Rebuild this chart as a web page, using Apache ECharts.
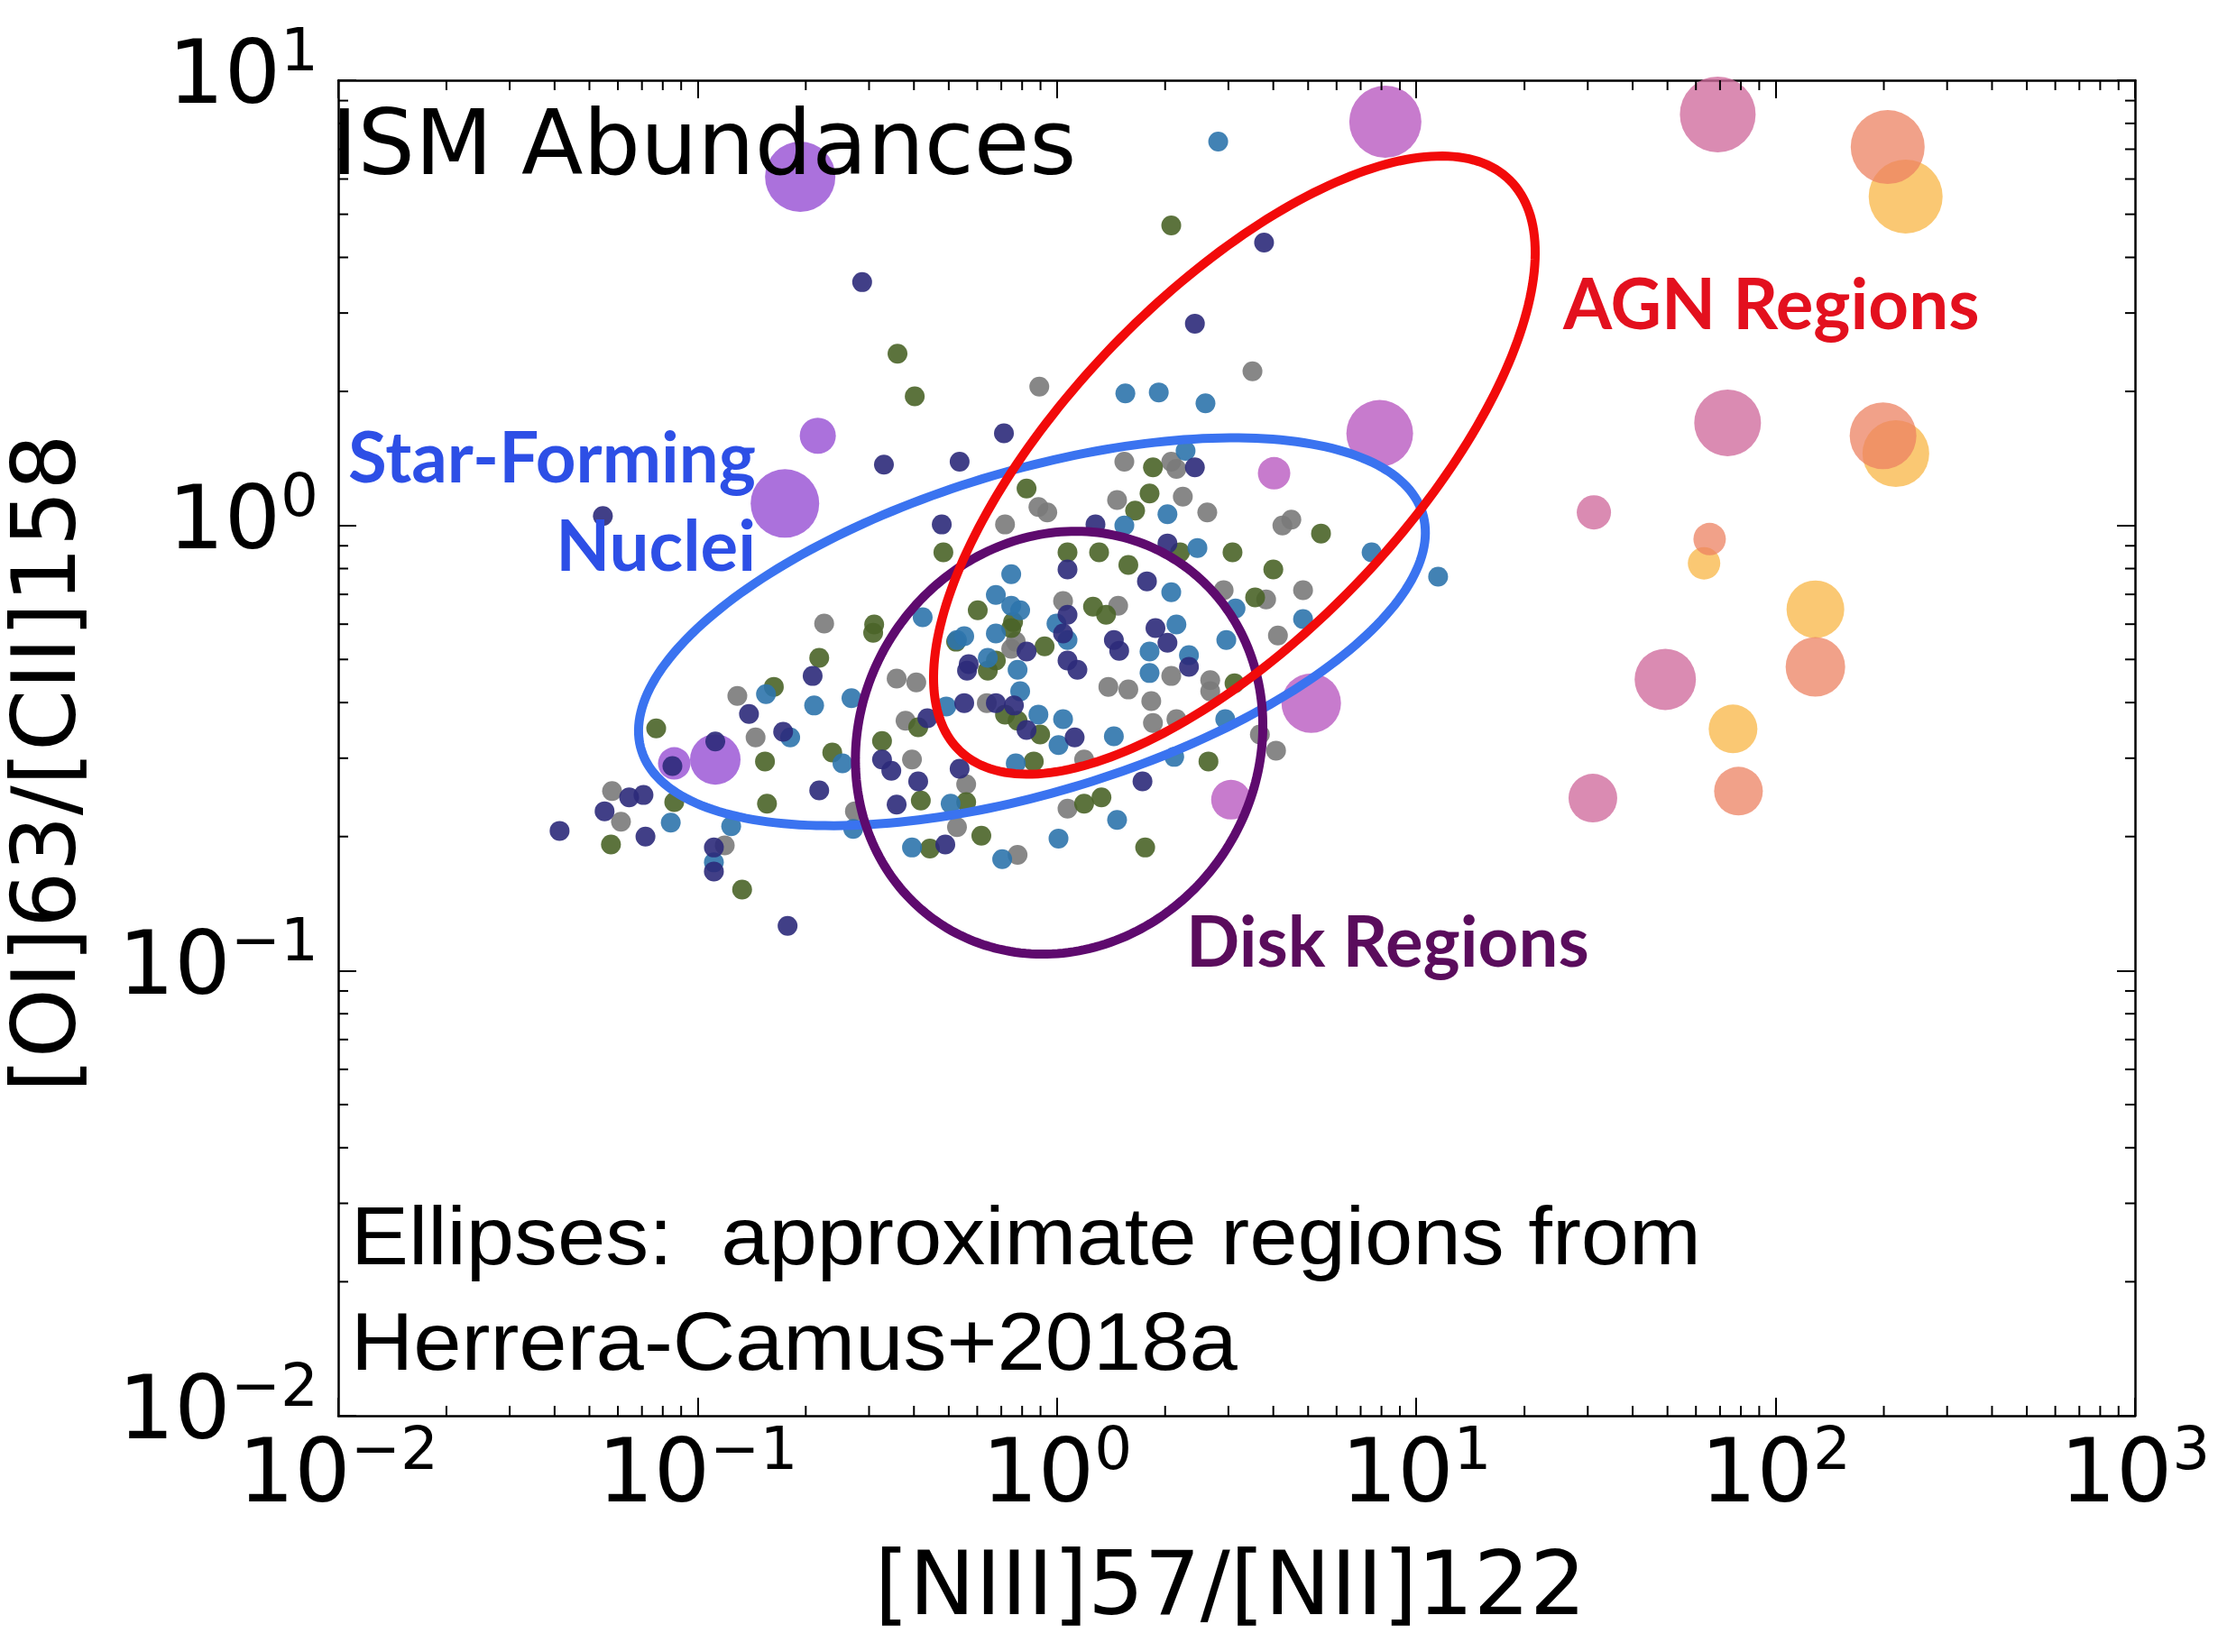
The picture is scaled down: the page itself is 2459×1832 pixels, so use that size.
<!DOCTYPE html>
<html>
<head>
<meta charset="utf-8">
<script src="https://cdn.jsdelivr.net/npm/echarts@6/dist/echarts.min.js"></script>
<style>
html, body { margin: 0; padding: 0; background: #ffffff; }
#chart { width: 2459px; height: 1832px; }
</style>
</head>
<body>
<div id="chart"></div>
<script>
// ---------------- data ----------------
const xMinorTicks = [0.02,0.03,0.04,0.05,0.06,0.07,0.08,0.09,
  0.2,0.3,0.4,0.5,0.6,0.7,0.8,0.9, 2,3,4,5,6,7,8,9,
  20,30,40,50,60,70,80,90, 200,300,400,500,600,700,800,900];
const yMinorTicks = [0.02,0.03,0.04,0.05,0.06,0.07,0.08,0.09,
  0.2,0.3,0.4,0.5,0.6,0.7,0.8,0.9, 2,3,4,5,6,7,8,9];

// small galaxy points: [NIII]57/[NII]122, [OI]63/[CII]158
const navyPoints = [[0.287,3.52],[0.330,1.37],[0.536,1.39],[0.712,1.61],[0.0545,1.05],[0.478,1.005],[3.77,4.32],[2.42,2.84],[2.42,1.35],[1.28,1.005],[2.03,0.911],[1.07,0.796],[1.78,0.749],[1.07,0.630],[1.04,0.572],[1.88,0.588],[1.44,0.553],[2.03,0.545],[0.823,0.521],[1.49,0.523],[1.07,0.497],[1.14,0.474],[2.33,0.481],[0.676,0.399],[0.759,0.394],[0.823,0.347],[1.12,0.334],[1.73,0.266],[0.209,0.459],[0.139,0.377],[0.173,0.344],[0.112,0.327],[0.0851,0.288],[0.218,0.254],[0.0645,0.245],[0.0707,0.248],[0.0551,0.228],[0.0413,0.206],[0.0716,0.200],[0.111,0.189],[0.111,0.167],[0.178,0.126],[0.552,0.399],[0.568,0.488],[0.436,0.369],[0.326,0.298],[0.346,0.281],[0.411,0.266],[0.536,0.284],[0.358,0.236],[0.489,0.192],[0.562,0.472]];
const bluePoints = [[2.81,7.28],[1.55,1.98],[1.92,1.99],[2.59,1.88],[2.28,1.47],[2.03,1.06],[1.54,1.00],[7.51,0.870],[11.5,0.767],[2.46,0.890],[0.746,0.777],[2.08,0.708],[3.14,0.651],[4.84,0.616],[0.790,0.645],[0.676,0.698],[0.997,0.602],[1.07,0.553],[0.676,0.572],[2.15,0.599],[1.81,0.521],[2.33,0.511],[2.96,0.553],[0.423,0.622],[0.527,0.553],[0.777,0.474],[1.81,0.466],[0.790,0.424],[0.888,0.376],[1.04,0.367],[2.94,0.367],[1.01,0.321],[1.44,0.336],[0.768,0.292],[2.12,0.302],[1.47,0.218],[1.01,0.198],[0.704,0.178],[0.155,0.418],[0.211,0.394],[0.268,0.409],[0.181,0.334],[0.253,0.292],[0.0842,0.215],[0.124,0.211],[0.111,0.175],[0.506,0.237],[0.271,0.208],[0.395,0.189],[0.552,0.564],[0.642,0.504],[0.746,0.660],[0.492,0.392]];
const greenPoints = [[0.360,2.43],[0.402,1.95],[0.483,0.870],[0.310,0.599],[0.218,0.504],[0.602,0.645],[2.08,4.72],[1.85,1.35],[0.823,1.21],[1.65,1.08],[1.81,1.18],[5.43,0.959],[2.20,0.870],[3.08,0.870],[4.00,0.796],[1.07,0.870],[1.31,0.870],[1.58,0.815],[3.56,0.689],[1.26,0.657],[1.37,0.630],[0.746,0.588],[0.924,0.535],[0.676,0.497],[3.12,0.442],[0.717,0.376],[0.777,0.364],[0.898,0.339],[0.862,0.295],[2.64,0.295],[1.19,0.237],[1.33,0.245],[1.76,0.189],[0.163,0.434],[0.0767,0.350],[0.154,0.295],[0.237,0.309],[0.156,0.237],[0.0861,0.239],[0.0574,0.192],[0.133,0.152],[0.308,0.574],[0.411,0.352],[0.326,0.328],[0.418,0.241],[0.559,0.239],[0.443,0.188],[0.616,0.201],[0.524,0.548],[0.642,0.472],[0.755,0.607]];
const greyPoints = [[3.50,2.22],[0.893,2.05],[1.54,1.39],[2.08,1.39],[2.15,1.34],[0.888,1.10],[0.940,1.07],[1.47,1.14],[2.24,1.16],[2.62,1.07],[0.717,1.005],[4.24,1.00],[4.49,1.03],[2.91,0.715],[3.82,0.682],[4.84,0.715],[4.12,0.566],[1.04,0.676],[1.48,0.660],[0.746,0.528],[1.39,0.434],[1.58,0.428],[2.08,0.459],[2.67,0.449],[2.67,0.424],[1.83,0.403],[1.85,0.360],[2.15,0.367],[4.07,0.312],[1.19,0.298],[1.07,0.231],[0.777,0.182],[0.225,0.602],[0.129,0.414],[0.145,0.334],[0.0578,0.253],[0.0612,0.216],[0.119,0.191],[0.358,0.453],[0.406,0.444],[0.638,0.399],[0.379,0.364],[0.395,0.298],[0.559,0.262],[0.274,0.228],[0.527,0.210],[0.768,0.548],[3.67,0.339]];

// model grid bubbles: [x, y, bubble magnitude]
const violetBubbles = [[0.193,6.07,39],[0.216,1.59,20],[0.175,1.12,38],[0.112,0.298,28],[0.0861,0.292,18]];
const orchidBubbles = [[8.20,8.07,40],[7.91,1.61,37],[4.02,1.31,18],[5.10,0.399,33],[3.05,0.242,22]];
const pinkBubbles   = [[69.0,8.38,42],[73.5,1.70,37],[31.2,1.07,19],[49.3,0.451,34],[31.0,0.244,27]];
const yellowBubbles = [[230,5.48,41],[216,1.45,37],[63.2,0.822,18],[129,0.648,32],[76.1,0.349,27]];
const salmonBubbles = [[205,7.08,41],[199,1.59,37],[65.5,0.932,18],[129,0.481,33],[78.8,0.253,27]];

// region ellipses (Herrera-Camus+2018a): centre x, centre y, semi-major (dex), semi-minor (dex), angle (deg)
const starFormingEllipse = [0.852, 0.577, 1.120, 0.366, 12.9];
const diskEllipse        = [1.014, 0.325, 0.571, 0.470, 12.2];
const agnEllipse         = [3.117, 1.366, 1.003, 0.4205, 37.35];

// ---------------- chart ----------------
const chart = echarts.init(document.getElementById('chart'), null, { renderer: 'canvas' });

const supMap = function (v) {
  const e = Math.round(Math.log10(v));
  return '{b|10}{s|' + (e < 0 ? '\u2212' + (-e) : String(e)) + '}';
};
const tickRich = {
  b: { fontFamily: 'DejaVu Sans', fontSize: 98, color: '#000', lineHeight: 122 },
  s: { fontFamily: 'DejaVu Sans', fontSize: 66, color: '#000', lineHeight: 46, verticalAlign: 'top' }
};
const frameLine = { show: true, onZero: false, lineStyle: { color: '#000', width: 2.5 } };
const majorTick = { show: true, inside: true, length: 20, lineStyle: { color: '#000', width: 2 } };

function ellipseSeries(spec, color, z) {
  return {
    type: 'custom', coordinateSystem: 'cartesian2d', xAxisIndex: 0, yAxisIndex: 0,
    data: [spec], encode: { x: 0, y: 1 }, clip: false, silent: true, z: z,
    renderItem: function (params, api) {
      const cx = Math.log10(api.value(0)), cy = Math.log10(api.value(1));
      const a = api.value(2), b = api.value(3), th = api.value(4) * Math.PI / 180;
      const pts = [];
      const n = 240;
      for (let i = 0; i < n; i++) {
        const t = i / n * 2 * Math.PI;
        const lx = cx + a * Math.cos(t) * Math.cos(th) - b * Math.sin(t) * Math.sin(th);
        const ly = cy + a * Math.cos(t) * Math.sin(th) + b * Math.sin(t) * Math.cos(th);
        pts.push(api.coord([Math.pow(10, lx), Math.pow(10, ly)]));
      }
      return { type: 'polygon', shape: { points: pts }, style: { fill: 'none', stroke: color, lineWidth: 10 } };
    }
  };
}

function bubbleSeries(data, color, opacity, z) {
  return {
    type: 'scatter', xAxisIndex: 0, yAxisIndex: 0, data: data, z: z, silent: true,
    symbol: 'circle', symbolSize: function (v) { return v[2] * 2; },
    itemStyle: { color: color, opacity: opacity, borderWidth: 0 }
  };
}
function dotSeries(data, color) {
  return {
    type: 'scatter', xAxisIndex: 0, yAxisIndex: 0, data: data, z: 4, silent: true,
    symbol: 'circle', symbolSize: 22,
    itemStyle: { color: color, opacity: 0.9, borderWidth: 0 }
  };
}

const option = {
  animation: false,
  backgroundColor: '#ffffff',
  grid: { left: 375, top: 89, right: 92, bottom: 262, containLabel: false, outerBoundsMode: 'none' },
  xAxis: [
    {
      type: 'log', logBase: 10, min: 0.01, max: 1000, position: 'bottom', splitNumber: 5,
      axisLine: frameLine, axisTick: majorTick, splitLine: { show: false }, minorTick: { show: false },
      axisLabel: { show: true, margin: 9, formatter: supMap, rich: tickRich, showMinLabel: true, showMaxLabel: true },
      name: '[NIII]57/[NII]122', nameLocation: 'middle', nameGap: 140,
      nameTextStyle: { fontFamily: 'DejaVu Sans', fontSize: 98, color: '#000', lineHeight: 110, padding: [0, 14, 0, 0] }
    },
    {
      type: 'log', logBase: 10, min: 0.01, max: 1000, position: 'top', splitNumber: 5,
      axisLine: frameLine, axisTick: majorTick, splitLine: { show: false }, axisLabel: { show: false }
    }
  ],
  yAxis: [
    {
      type: 'log', logBase: 10, min: 0.01, max: 10, position: 'left', splitNumber: 5,
      axisLine: frameLine, axisTick: majorTick, splitLine: { show: false }, minorTick: { show: false },
      axisLabel: { show: true, margin: 22, formatter: supMap, rich: tickRich, showMinLabel: true, showMaxLabel: true },
      name: '[OI]63/[CII]158', nameLocation: 'middle', nameGap: 262,
      nameTextStyle: { fontFamily: 'DejaVu Sans', fontSize: 98, color: '#000', lineHeight: 110, padding: [0, 34, 0, 0] }
    },
    {
      type: 'log', logBase: 10, min: 0.01, max: 10, position: 'right', splitNumber: 5,
      axisLine: frameLine, axisTick: majorTick, splitLine: { show: false }, axisLabel: { show: false }
    }
  ],
  series: [
    bubbleSeries(violetBubbles, '#9c58d6', 0.85, 2),
    bubbleSeries(orchidBubbles, '#b95ac0', 0.8, 2),
    bubbleSeries(pinkBubbles, '#cf6a9c', 0.78, 2),
    bubbleSeries(yellowBubbles, '#f8b84c', 0.78, 2),
    bubbleSeries(salmonBubbles, '#ec8262', 0.75, 2),
    dotSeries(greyPoints, '#7a7a7a'),
    dotSeries(greenPoints, '#4a6428'),
    dotSeries(bluePoints, '#2d74ac'),
    dotSeries(navyPoints, '#2c2a7a'),
    ellipseSeries(starFormingEllipse, '#3a73f0', 6),
    ellipseSeries(diskEllipse, '#5e0a6e', 7),
    ellipseSeries(agnEllipse, '#f20a0a', 8),
    {
      type: 'custom', coordinateSystem: 'cartesian2d', xAxisIndex: 0, yAxisIndex: 0,
      data: xMinorTicks.map(function (v) { return [v, 1]; }), encode: { x: 0, y: 1 },
      clip: false, silent: true, z: 9,
      renderItem: function (params, api) {
        const cs = params.coordSys;
        const x = api.coord([api.value(0), 1])[0];
        return { type: 'group', children: [
          { type: 'line', shape: { x1: x, y1: cs.y + cs.height, x2: x, y2: cs.y + cs.height - 11 }, style: { stroke: '#000', lineWidth: 2 } },
          { type: 'line', shape: { x1: x, y1: cs.y, x2: x, y2: cs.y + 11 }, style: { stroke: '#000', lineWidth: 2 } }
        ] };
      }
    },
    {
      type: 'custom', coordinateSystem: 'cartesian2d', xAxisIndex: 0, yAxisIndex: 0,
      data: yMinorTicks.map(function (v) { return [1, v]; }), encode: { x: 0, y: 1 },
      clip: false, silent: true, z: 9,
      renderItem: function (params, api) {
        const cs = params.coordSys;
        const y = api.coord([1, api.value(1)])[1];
        return { type: 'group', children: [
          { type: 'line', shape: { x1: cs.x, y1: y, x2: cs.x + 11, y2: y }, style: { stroke: '#000', lineWidth: 2 } },
          { type: 'line', shape: { x1: cs.x + cs.width, y1: y, x2: cs.x + cs.width - 11, y2: y }, style: { stroke: '#000', lineWidth: 2 } }
        ] };
      }
    }
  ],
  graphic: {
    elements: [
      { type: 'text', x: 367, y: 167, z: 100, silent: true,
        style: { text: 'ISM Abundances', fontFamily: 'DejaVu Sans', fontSize: 100, fill: '#000',
                 align: 'left', verticalAlign: 'middle', textAlign: 'left', textVerticalAlign: 'middle' } },
      { type: 'text', x: 838, y: 510, z: 100, silent: true,
        style: { text: 'Star-Forming', fontFamily: 'Lato', fontWeight: 'bold', fontSize: 78, fill: '#2d4fe6',
                 align: 'right', verticalAlign: 'middle', textAlign: 'right', textVerticalAlign: 'middle' } },
      { type: 'text', x: 838, y: 608, z: 100, silent: true,
        style: { text: 'Nuclei', fontFamily: 'Lato', fontWeight: 'bold', fontSize: 78, fill: '#2d4fe6',
                 align: 'right', verticalAlign: 'middle', textAlign: 'right', textVerticalAlign: 'middle' } },
      { type: 'text', x: 1733, y: 340, z: 100, silent: true,
        style: { text: 'AGN Regions', fontFamily: 'Lato', fontWeight: 'bold', fontSize: 78, fill: '#e3101e',
                 align: 'left', verticalAlign: 'middle', textAlign: 'left', textVerticalAlign: 'middle' } },
      { type: 'text', x: 1315, y: 1047, z: 100, silent: true,
        style: { text: 'Disk Regions', fontFamily: 'Lato', fontWeight: 'bold', fontSize: 78, fill: '#5a0c5c',
                 align: 'left', verticalAlign: 'middle', textAlign: 'left', textVerticalAlign: 'middle' } },
      { type: 'text', x: 389, y: 1377, z: 100, silent: true, scaleX: 1.065,
        style: { text: 'Ellipses:  approximate regions from', fontFamily: 'Liberation Sans', fontSize: 90, fill: '#000',
                 align: 'left', verticalAlign: 'middle', textAlign: 'left', textVerticalAlign: 'middle' } },
      { type: 'text', x: 389, y: 1494, z: 100, silent: true, scaleX: 1.065,
        style: { text: 'Herrera-Camus+2018a', fontFamily: 'Liberation Sans', fontSize: 90, fill: '#000',
                 align: 'left', verticalAlign: 'middle', textAlign: 'left', textVerticalAlign: 'middle' } }
    ]
  }
};
chart.setOption(option);
</script>
</body>
</html>
